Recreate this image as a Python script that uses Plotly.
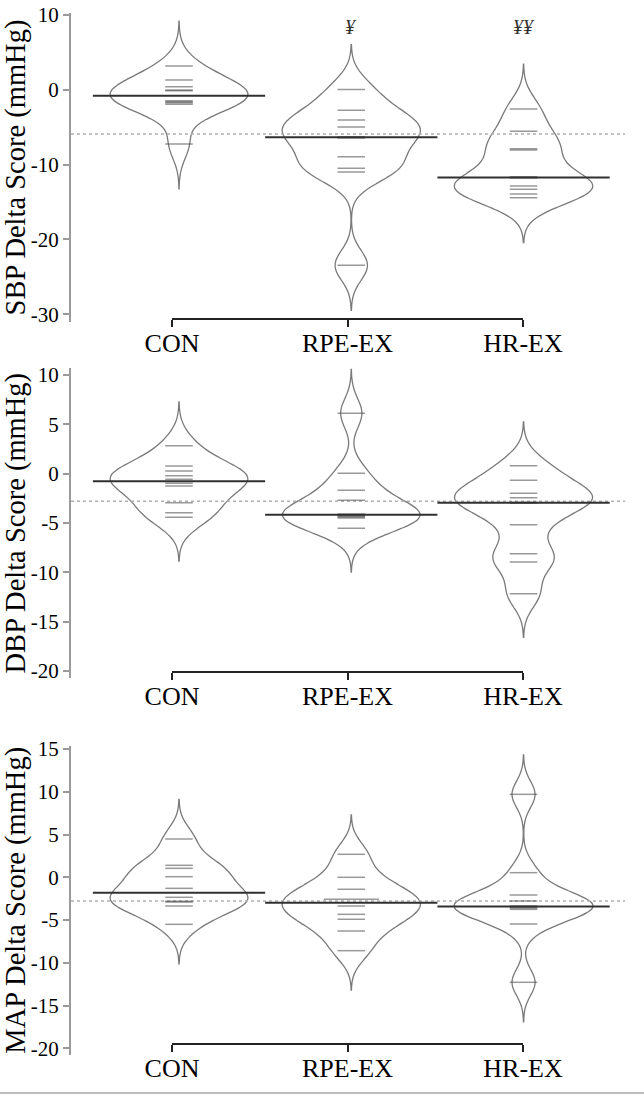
import numpy as np
import plotly.graph_objects as go

# ---------------- data ----------------
categories = ["CON", "RPE-EX", "HR-EX"]

sbp_con = [3.15, 1.28, 0.39, -0.05, -0.15, -1.5, -1.62, -1.75, -1.95, -7.26]
sbp_rpe = [0.0, -2.77, -4.06, -4.99, -6.3, -6.45, -8.95, -10.51, -11.0, -23.46]
sbp_hr = [-2.59, -5.57, -7.9, -8.05, -11.65, -11.8, -12.87, -13.31, -13.94, -14.43]

dbp_con = [2.84, 0.78, 0.27, -0.2, -0.57, -0.98, -1.25, -2.94, -3.95, -4.42]
dbp_rpe = [6.12, 0.04, -1.69, -2.7, -4.1, -4.25, -4.3, -4.4, -4.5, -5.54]
dbp_hr = [0.81, -0.67, -1.99, -2.43, -2.9, -3.0, -5.17, -8.11, -8.95, -12.16]

map_con = [4.48, 1.4, 1.05, 0.07, -1.29, -2.34, -2.8, -2.9, -3.36, -5.5]
map_rpe = [2.69, 0.0, -1.4, -2.57, -2.57, -3.36, -4.33, -4.91, -6.28, -8.58]
map_hr = [9.7, 0.54, -2.07, -2.77, -3.35, -3.5, -3.6, -3.75, -5.46, -12.28]

sbp_marks = ["", "¥", "¥¥"]

titles = ["SBP Delta Score (mmHg)", "DBP Delta Score (mmHg)", "MAP Delta Score (mmHg)"]
bandwidths = [2.0, 1.48, 1.54]
ytick_step = [10, 5, 5]

# ---------------- layout constants (pixels) ----------------
W, H = 644, 1096
FONT = "Liberation Serif, Times New Roman, Times, serif"
X_DOM_PX = (71, 625)
X_RANGE = [-0.627, 2.589]
BRACKET_PX = (172, 523)
CUT = 3          # bean extends 3 bandwidths past the extreme points
MAXWIDTH = 0.8   # widest bean in a panel
LL = 0.16        # bean-line length per point

panels = [
    dict(groups=[sbp_con, sbp_rpe, sbp_hr], yrange=[-31.0, 10.2], px=(13.2, 321.8), bracket=319, marks=sbp_marks, ymark=8.4),
    dict(groups=[dbp_con, dbp_rpe, dbp_hr], yrange=[-20.74, 10.7], px=(368.1, 678.3), bracket=672, marks=None),
    dict(groups=[map_con, map_rpe, map_hr], yrange=[-20.78, 15.4], px=(745.6, 1055.0), bracket=1044, marks=None),
]

fig = go.Figure()
layout = dict(
    width=W, height=H, margin=dict(l=0, r=0, t=0, b=0, autoexpand=False),
    paper_bgcolor="white", plot_bgcolor="rgba(0,0,0,0)",
    showlegend=False, violinmode="overlay",
    font=dict(family=FONT, color="black"),
    annotations=[], shapes=[],
)

xdom = [X_DOM_PX[0] / W, X_DOM_PX[1] / W]
bdom = [BRACKET_PX[0] / W, BRACKET_PX[1] / W]

for p, pan in enumerate(panels):
    k = p + 1
    xa = "x" if k == 1 else f"x{k}"
    ya = "y" if k == 1 else f"y{k}"
    xb = f"x{k + 3}"
    bw = bandwidths[p]
    groups = pan["groups"]
    all_vals = np.concatenate([np.asarray(g, float) for g in groups])
    overall = float(np.median(all_vals))

    # overall median: dotted line across the panel
    fig.add_trace(go.Scatter(
        x=X_RANGE, y=[overall, overall], mode="lines", xaxis=xa, yaxis=ya,
        line=dict(color="#b0b0b0", width=1.5, dash="dot"), hoverinfo="skip"))

    # beans (shared density scale inside a panel: equal n, count scaling)
    for i, g in enumerate(groups):
        g = np.asarray(g, float)
        fig.add_trace(go.Violin(
            y=g, x0=i, xaxis=xa, yaxis=ya, bandwidth=bw,
            spanmode="manual", span=[g.min() - CUT * bw, g.max() + CUT * bw],
            scalegroup=f"panel{k}", scalemode="count", width=MAXWIDTH,
            points=False, box_visible=False, meanline_visible=False,
            fillcolor="white", line=dict(color="#7a7a7a", width=1.3),
            hoverinfo="skip", name=categories[i]))

    # bean lines (one per observation, longer where values repeat)
    for i, g in enumerate(groups):
        vals, counts = np.unique(np.asarray(g, float), return_counts=True)
        xs, ys = [], []
        for v, c in zip(vals, counts):
            h = LL * c / 2
            xs += [i - h, i + h, None]
            ys += [v, v, None]
        fig.add_trace(go.Scatter(
            x=xs, y=ys, mode="lines", xaxis=xa, yaxis=ya,
            line=dict(color="rgba(70,70,70,0.55)", width=1.5), hoverinfo="skip"))

    # group medians
    xs, ys = [], []
    for i, g in enumerate(groups):
        m = float(np.median(g))
        xs += [i - 0.5, i + 0.5, None]
        ys += [m, m, None]
    fig.add_trace(go.Scatter(
        x=xs, y=ys, mode="lines", xaxis=xa, yaxis=ya,
        line=dict(color="#303030", width=2), hoverinfo="skip"))

    # invisible trace so the bracket axis is drawn
    fig.add_trace(go.Scatter(
        x=[0, 2], y=[overall, overall], mode="markers", xaxis=xb, yaxis=ya,
        marker=dict(opacity=0), hoverinfo="skip"))

    top_px, bot_px = pan["px"]
    ydom = [1 - bot_px / H, 1 - top_px / H]
    ymin, ymax = pan["yrange"]
    step = ytick_step[p]
    tv = list(range(int(np.ceil(ymin / step) * step), int(ymax) + 1, step))

    layout["xaxis" if k == 1 else f"xaxis{k}"] = dict(
        domain=xdom, range=X_RANGE, anchor=ya, visible=False, fixedrange=True,
        automargin=False)
    layout["yaxis" if k == 1 else f"yaxis{k}"] = dict(
        domain=ydom, range=pan["yrange"], anchor=xa, automargin=False,
        showline=True, linecolor="#9a9a9a", linewidth=2,
        ticks="outside", ticklen=6, tickwidth=1.5, tickcolor="#9a9a9a",
        tickvals=tv, ticktext=[str(v) for v in tv],
        tickfont=dict(family=FONT, size=21, color="black"),
        showgrid=False, zeroline=False,
        title=dict(text=titles[p], font=dict(family=FONT, size=28.5, color="black"), standoff=6))
    layout[f"xaxis{k + 3}"] = dict(
        domain=bdom, range=[0, 2], anchor="free", position=1 - pan["bracket"] / H,
        automargin=False,
        showline=True, linecolor="#222222", linewidth=2,
        ticks="outside", ticklen=7, tickwidth=2, tickcolor="#222222",
        tickvals=[0, 1, 2], ticktext=categories, ticklabelstandoff=-6,
        tickfont=dict(family=FONT, size=26, color="black"),
        showgrid=False, zeroline=False, fixedrange=True)

    if pan["marks"]:
        for i, mk in enumerate(pan["marks"]):
            if mk:
                layout["annotations"].append(dict(
                    x=i, y=pan["ymark"], xref=xa, yref=ya, text=f"<i>{mk}</i>",
                    showarrow=False, xanchor="center", yanchor="middle",
                    font=dict(family=FONT, size=20, color="#333333")))

# thin grey rule at the bottom of the figure
layout["shapes"].append(dict(type="line", xref="paper", yref="paper", x0=0, x1=1,
                             y0=1 - 1093 / H, y1=1 - 1093 / H,
                             line=dict(color="#bdbdbd", width=2)))

fig.update_layout(**layout)
fig.write_html("out.html", config={"displayModeBar": False},
               post_script="document.body.style.margin='0';document.body.style.overflow='hidden';")
